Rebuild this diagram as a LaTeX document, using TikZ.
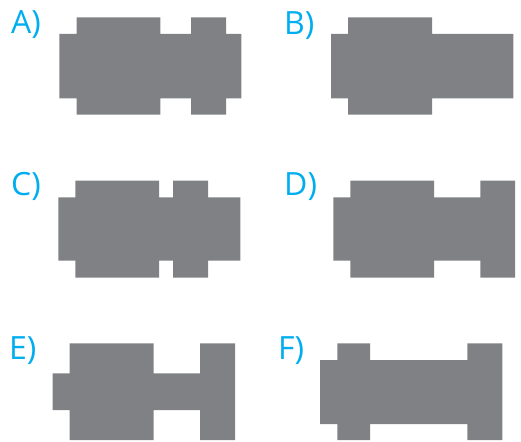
\documentclass[tikz,border=0pt]{standalone}
\usepackage{fontspec}
\setmainfont{Open Sans}
\definecolor{partgray}{HTML}{808184}
\definecolor{labelblue}{HTML}{00AEEF}
\begin{document}
\begin{tikzpicture}[x=1pt,y=-1pt,
  part/.style={fill=partgray},
  lbl/.style={anchor=base west,inner sep=0pt,text=labelblue,font=\fontsize{32}{32}\selectfont}]
\useasboundingbox (0,0) rectangle (521,441);

% A
\node[lbl] (labA) at (11,34) {A)};
\fill[part] (59.3,34) rectangle (241.3,98.3)
  (76.7,17.3) rectangle (160.3,114.7)
  (191,17.3) rectangle (226,114.7);

% B
\node[lbl] (labB) at (284,35) {B)};
\fill[part] (331,34) rectangle (513.3,98.3)
  (348,17.3) rectangle (432,114.7);

% C
\node[lbl] (labC) at (11,195) {C)};
\fill[part] (58.3,197.3) rectangle (240.3,260.7)
  (75.3,180.7) rectangle (159,277.7)
  (173,180.7) rectangle (208,277.7);

% D
\node[lbl] (labD) at (284,195) {D)};
\fill[part] (333.3,197.3) rectangle (515,260.7)
  (350.3,180.7) rectangle (434,277.5)
  (480.3,180.7) rectangle (515,277.5);

% E
\node[lbl] (labE) at (9,359) {E)};
\fill[part] (52.7,373.3) rectangle (200,410)
  (69.7,343.3) rectangle (153.7,440)
  (200,343.3) rectangle (235,440);

% F
\node[lbl] (labF) at (278,359) {F)};
\fill[part] (320,360) rectangle (502.3,424)
  (337.3,343.3) rectangle (370,440)
  (467.3,343.3) rectangle (502.3,440);
\end{tikzpicture}
\end{document}
